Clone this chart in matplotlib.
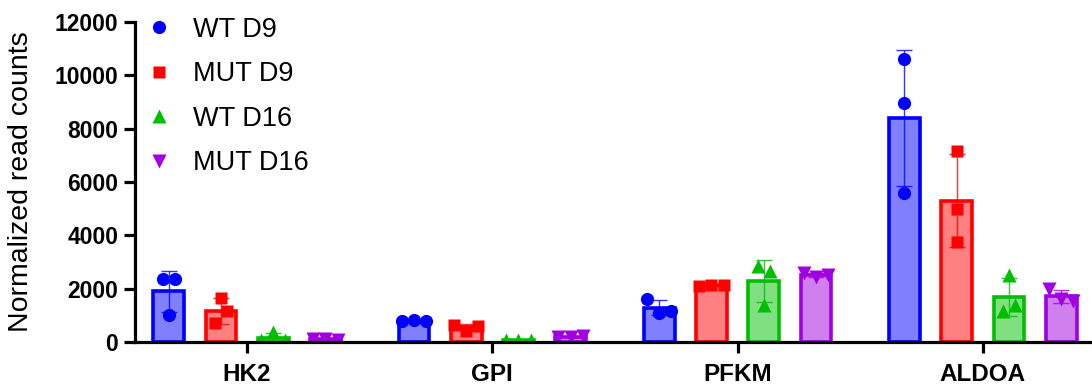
import matplotlib

matplotlib.use("Agg")
import matplotlib.pyplot as plt
import numpy as np
from matplotlib.lines import Line2D

plt.rcParams["font.family"] = ["Liberation Sans", "DejaVu Sans"]

genes = ["HK2", "GPI", "PFKM", "ALDOA"]
groups = ["WT D9", "MUT D9", "WT D16", "MUT D16"]

# replicate values per gene, one list per group
wt_d9 = [[2350, 1000, 2350], [800, 820, 780], [1600, 1100, 1150], [10600, 8975, 5600]]
mut_d9 = [[1650, 700, 1150], [650, 420, 600], [2100, 2150, 2150], [7175, 4975, 3740]]
wt_d16 = [[60, 380, 60], [60, 80, 70], [2850, 1400, 2650], [2500, 1150, 1400]]
mut_d16 = [[100, 130, 90], [200, 180, 220], [2600, 2450, 2500], [2000, 1600, 1550]]

edge_colors = ["#0000FF", "#FF0000", "#00BF00", "#A000E0"]
fill_colors = ["#8080FF", "#FF8080", "#80DF80", "#D080EE"]
markers = ["o", "s", "^", "v"]
marker_sizes = [9.5, 8.5, 9.5, 9.5]


def spread(vals, thr=470, dx=0.05):
    # simple jitter: points that would overlap are pushed apart sideways
    n = len(vals)
    cluster = list(range(n))
    for i in range(n):
        for j in range(i + 1, n):
            if abs(vals[i] - vals[j]) < thr:
                old = cluster[j]
                cluster = [cluster[i] if c == old else c for c in cluster]
    offs = np.zeros(n)
    for c in set(cluster):
        idx = [k for k in range(n) if cluster[k] == c]
        m = len(idx)
        for pos, k in enumerate(idx):
            offs[k] = (pos - (m - 1) / 2) * dx
    return offs


fig = plt.figure(figsize=(10.92, 3.87), dpi=100)
ax = fig.add_axes([0.1236, 0.1163, 0.8764, 0.8269])

x = np.arange(len(genes))
width = 0.125
step = 0.213
series = [wt_d9, mut_d9, wt_d16, mut_d16]

for i, data in enumerate(series):
    pos = x + (i - 1.5) * step
    means = [np.mean(v) for v in data]
    sds = [np.std(v, ddof=1) for v in data]
    ax.bar(pos, means, width, color=fill_colors[i], edgecolor=edge_colors[i],
           linewidth=2.6, zorder=2)
    ax.errorbar(pos, means, yerr=sds, fmt="none", ecolor=edge_colors[i],
                elinewidth=1.0, capsize=6, capthick=1.0, alpha=0.8, zorder=3)
    for p, v in zip(pos, data):
        ax.plot(p + spread(v), v, ls="none", marker=markers[i],
                ms=marker_sizes[i], color=edge_colors[i], mec="none", zorder=4)

ax.set_xlim(-0.457, 3.445)
ax.set_ylim(0, 12000)
ax.set_yticks(range(0, 12001, 2000))
ax.set_xticks(x)
ax.set_xticklabels(genes, fontsize=17.5, fontweight="bold")
for lab in ax.get_yticklabels():
    lab.set_fontsize(16.5)
    lab.set_fontweight("bold")

for s in ["top", "right"]:
    ax.spines[s].set_visible(False)
for s in ["left", "bottom"]:
    ax.spines[s].set_linewidth(2.3)
    ax.spines[s].set_zorder(5)
ax.tick_params(axis="both", width=2.3, length=8, pad=4)
ax.tick_params(axis="x", pad=7)
ax.set_ylabel("Normalized read counts", fontsize=20.5)
ax.yaxis.set_label_coords(-0.106, 0.5)

handles = [Line2D([], [], ls="none", marker=markers[i], ms=marker_sizes[i],
                  color=edge_colors[i], mec="none") for i in range(4)]
ax.legend(handles, groups, loc="upper left", bbox_to_anchor=(0.0, 1.05),
          frameon=False, fontsize=19.5, handlelength=1.0, handletextpad=0.75,
          labelspacing=0.68, borderaxespad=0)

fig.savefig("out.png", dpi=100)
